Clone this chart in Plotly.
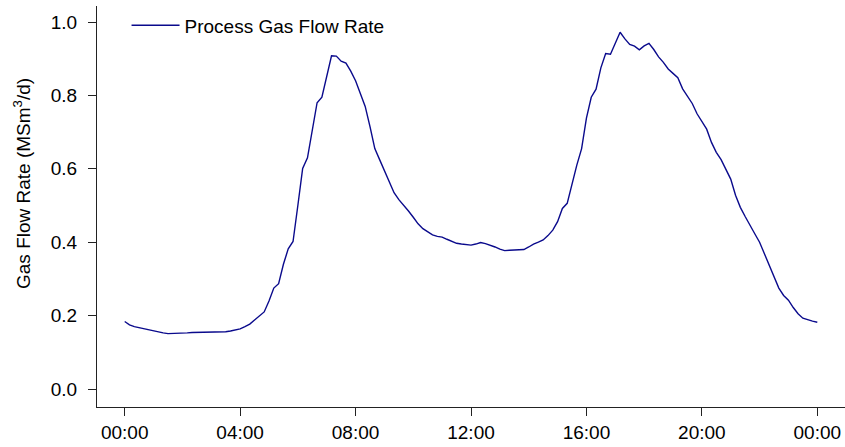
import plotly.graph_objects as go

# time of day labels, 10-minute sampling
times = [f"{h:02d}:{m:02d}" for h in range(24) for m in range(0, 60, 10)] + ["24:00"]

flow = [
    0.184, 0.175, 0.170, 0.167, 0.163, 0.160,   # 00
    0.157, 0.155, 0.153, 0.151, 0.151, 0.152,   # 01
    0.153, 0.153, 0.154, 0.154, 0.155, 0.155,   # 02
    0.155, 0.156, 0.156, 0.156, 0.158, 0.160,   # 03
    0.164, 0.170, 0.177, 0.188, 0.200, 0.210,   # 04
    0.240, 0.275, 0.287, 0.340, 0.382, 0.402,   # 05
    0.500, 0.601, 0.630, 0.700, 0.780, 0.795,   # 06
    0.850, 0.908, 0.907, 0.893, 0.888, 0.866,   # 07
    0.840, 0.805, 0.770, 0.715, 0.655, 0.625,   # 08
    0.595, 0.565, 0.535, 0.516, 0.502, 0.485,   # 09
    0.468, 0.450, 0.437, 0.429, 0.420, 0.416,   # 10
    0.414, 0.408, 0.403, 0.397, 0.395, 0.394,   # 11
    0.392, 0.395, 0.399, 0.396, 0.392, 0.387,   # 12
    0.381, 0.377, 0.378, 0.378, 0.379, 0.380,   # 13
    0.387, 0.395, 0.400, 0.406, 0.418, 0.433,   # 14
    0.456, 0.492, 0.506, 0.560, 0.610, 0.655,   # 15
    0.738, 0.795, 0.817, 0.875, 0.914, 0.912,   # 16
    0.944, 0.972, 0.954, 0.939, 0.934, 0.924,   # 17
    0.935, 0.942, 0.925, 0.905, 0.890, 0.872,   # 18
    0.860, 0.848, 0.818, 0.796, 0.778, 0.750,   # 19
    0.730, 0.708, 0.672, 0.645, 0.625, 0.600,   # 20
    0.572, 0.528, 0.495, 0.470, 0.445, 0.423,   # 21
    0.400, 0.368, 0.338, 0.305, 0.275, 0.255,   # 22
    0.242, 0.222, 0.205, 0.193, 0.188, 0.185,   # 23
    0.182,                                      # 24
]

x_tick_vals = [0, 4, 8, 12, 16, 20, 24]
x_tick_text = ["00:00", "04:00", "08:00", "12:00", "16:00", "20:00", "00:00"]
y_tick_vals = [0.0, 0.2, 0.4, 0.6, 0.8, 1.0]
y_tick_text = ["0.0", "0.2", "0.4", "0.6", "0.8", "1.0"]

hours = [int(t[:2]) + int(t[3:]) / 60 for t in times]

FONT = "Liberation Sans, Arial, Helvetica, sans-serif"
FS = 19

fig = go.Figure()
fig.add_trace(go.Scatter(
    x=hours, y=flow, mode="lines", name="Process Gas Flow Rate",
    line=dict(color="#0a0a8c", width=1.4),
))

fig.update_layout(
    width=845, height=447,
    margin=dict(l=97, r=0, t=6, b=40),
    paper_bgcolor="white", plot_bgcolor="white",
    font=dict(family=FONT, size=FS, color="black"),
    showlegend=True,
    legend=dict(x=0.0395, y=0.999, xanchor="left", yanchor="top",
                itemwidth=48,
                bgcolor="rgba(0,0,0,0)", borderwidth=0,
                font=dict(size=FS, family=FONT, color="black")),
    xaxis=dict(range=[-0.96, 24.96], tickvals=x_tick_vals, ticktext=x_tick_text,
               showline=True, linecolor="#222", linewidth=1.2,
               ticks="outside", ticklen=8, tickcolor="#222", tickwidth=1.2,
               showgrid=False, zeroline=False, ticklabelstandoff=0,
               tickfont=dict(size=FS, family=FONT, color="black")),
    yaxis=dict(range=[-0.049, 1.0436], tickvals=y_tick_vals, ticktext=y_tick_text,
               showline=True, linecolor="#222", linewidth=1.2,
               ticks="outside", ticklen=8, tickcolor="#222", tickwidth=1.2,
               showgrid=False, zeroline=False, ticklabelstandoff=7,
               tickfont=dict(size=FS, family=FONT, color="black")),
    annotations=[dict(
        text="Gas Flow Rate (MSm<sup>3</sup>/d)", textangle=-90,
        xref="paper", yref="paper", x=-0.1003, y=0.5586,
        xanchor="center", yanchor="middle", showarrow=False,
        font=dict(size=FS, family=FONT, color="black"),
    )],
)

fig.write_html("out.html", config={"displayModeBar": False},
               post_script="document.body.style.margin='0';")
